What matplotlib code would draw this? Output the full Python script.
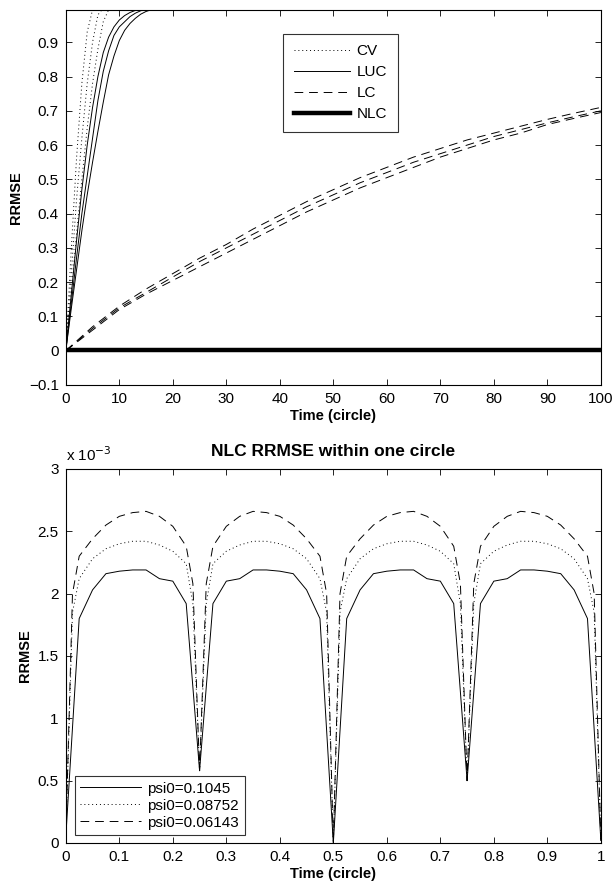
import matplotlib
matplotlib.use('Agg')
import matplotlib.pyplot as plt

plt.rcParams['font.family'] = ['Liberation Sans', 'DejaVu Sans']

# ---- top panel: RRMSE over 100 circles ----
t_early = list(range(0, 21)) + [100]

cv_1 = [0, 0.29, 0.56, 0.78, 0.93, 0.995, 1.0, 1.0, 1.0, 1.0, 1.0,
        1.0, 1.0, 1.0, 1.0, 1.0, 1.0, 1.0, 1.0, 1.0, 1.0, 1.0]
cv_2 = [0, 0.22, 0.44, 0.62, 0.78, 0.90, 0.98, 1.0, 1.0, 1.0, 1.0,
        1.0, 1.0, 1.0, 1.0, 1.0, 1.0, 1.0, 1.0, 1.0, 1.0, 1.0]
cv_3 = [0, 0.17, 0.34, 0.50, 0.65, 0.78, 0.88, 0.96, 0.995, 1.0, 1.0,
        1.0, 1.0, 1.0, 1.0, 1.0, 1.0, 1.0, 1.0, 1.0, 1.0, 1.0]

luc_1 = [0, 0.16, 0.32, 0.47, 0.60, 0.71, 0.80, 0.87, 0.915, 0.945, 0.965,
         0.978, 0.987, 0.993, 0.997, 0.999, 1.0, 1.0, 1.0, 1.0, 1.0, 1.0]
luc_2 = [0, 0.135, 0.27, 0.40, 0.51, 0.62, 0.73, 0.815, 0.875, 0.92, 0.945,
         0.96, 0.975, 0.985, 0.992, 0.996, 0.998, 1.0, 1.0, 1.0, 1.0, 1.0]
luc_3 = [0, 0.12, 0.235, 0.35, 0.455, 0.55, 0.64, 0.725, 0.805, 0.86, 0.905,
         0.935, 0.955, 0.97, 0.982, 0.99, 0.995, 0.998, 1.0, 1.0, 1.0, 1.0]

t_lc = list(range(0, 101, 5))
lc_1 = [0, 0.07, 0.13, 0.18, 0.225, 0.27, 0.31, 0.355, 0.395, 0.435, 0.47,
        0.505, 0.535, 0.565, 0.59, 0.615, 0.635, 0.655, 0.675, 0.693, 0.71]
lc_2 = [0, 0.065, 0.125, 0.17, 0.215, 0.26, 0.30, 0.34, 0.38, 0.42, 0.455,
        0.49, 0.52, 0.55, 0.575, 0.60, 0.625, 0.645, 0.665, 0.683, 0.70]
lc_3 = [0, 0.06, 0.12, 0.165, 0.205, 0.245, 0.285, 0.325, 0.365, 0.405, 0.44,
        0.475, 0.505, 0.535, 0.565, 0.59, 0.615, 0.635, 0.66, 0.678, 0.695]

t_nlc = [0, 25, 50, 75, 100]
nlc = [0.002, 0.002, 0.002, 0.002, 0.002]

# ---- bottom panel: NLC RRMSE within one circle (x 1e-3) ----
s = [0, 0.025, 0.05, 0.075, 0.1, 0.125, 0.15, 0.175, 0.2, 0.225,
     0.25, 0.275, 0.3, 0.325, 0.35, 0.375, 0.4, 0.425, 0.45, 0.475,
     0.5, 0.525, 0.55, 0.575, 0.6, 0.625, 0.65, 0.675, 0.7, 0.725,
     0.75, 0.775, 0.8, 0.825, 0.85, 0.875, 0.9, 0.925, 0.95, 0.975, 1.0]
psi_a = [0.05, 1.80, 2.03, 2.16, 2.18, 2.19, 2.19, 2.12, 2.10, 1.92,
         0.58, 1.92, 2.10, 2.12, 2.19, 2.19, 2.18, 2.16, 2.03, 1.80,
         0.0, 1.80, 2.03, 2.16, 2.18, 2.19, 2.19, 2.12, 2.10, 1.92,
         0.50, 1.92, 2.10, 2.12, 2.19, 2.19, 2.18, 2.16, 2.03, 1.80, 0.02]

s_fine = [0, 0.0125, 0.025, 0.05, 0.075, 0.1, 0.125, 0.15, 0.175, 0.2, 0.225, 0.2375,
          0.25, 0.2625, 0.275, 0.3, 0.325, 0.35, 0.375, 0.4, 0.425, 0.45, 0.475, 0.4875,
          0.5, 0.5125, 0.525, 0.55, 0.575, 0.6, 0.625, 0.65, 0.675, 0.7, 0.725, 0.7375,
          0.75, 0.7625, 0.775, 0.8, 0.825, 0.85, 0.875, 0.9, 0.925, 0.95, 0.975, 0.9875,
          1.0]
psi_b = [0.05, 1.85, 2.12, 2.28, 2.36, 2.40, 2.42, 2.42, 2.39, 2.34, 2.24, 1.92,
         0.58, 1.92, 2.24, 2.34, 2.39, 2.42, 2.42, 2.40, 2.36, 2.28, 2.12, 1.85,
         0.0, 1.85, 2.12, 2.28, 2.36, 2.40, 2.42, 2.42, 2.39, 2.34, 2.24, 1.92,
         0.50, 1.92, 2.24, 2.34, 2.39, 2.42, 2.42, 2.40, 2.36, 2.28, 2.12, 1.85,
         0.02]
psi_c = [0.05, 2.00, 2.30, 2.44, 2.55, 2.62, 2.65, 2.66, 2.62, 2.54, 2.38, 2.08,
         0.58, 2.08, 2.38, 2.54, 2.62, 2.66, 2.65, 2.62, 2.55, 2.44, 2.30, 2.00,
         0.0, 2.00, 2.30, 2.44, 2.55, 2.62, 2.65, 2.66, 2.62, 2.54, 2.38, 2.08,
         0.50, 2.08, 2.38, 2.54, 2.62, 2.66, 2.65, 2.62, 2.55, 2.44, 2.30, 2.00,
         0.02]
psi_labels = ['psi0=0.1045', 'psi0=0.08752', 'psi0=0.06143']

DOT = (0, (1, 3))
DASH = (0, (9, 6))
LW = 0.7


def style_axes(ax):
    ax.tick_params(direction='in', top=True, right=True, length=4,
                   width=0.6, labelsize=11, pad=5)
    for sp in ax.spines.values():
        sp.set_linewidth(0.8)


fig = plt.figure(figsize=(6.15, 8.85), dpi=100)

# top
ax1 = fig.add_axes([0.107, 0.565, 0.870, 0.424])
for y in (cv_1, cv_2, cv_3):
    ax1.plot(t_early, y, color='black', linestyle=DOT, linewidth=LW)
for y in (luc_1, luc_2, luc_3):
    ax1.plot(t_early, y, color='black', linestyle='-', linewidth=LW)
for y in (lc_1, lc_2, lc_3):
    ax1.plot(t_lc, y, color='black', linestyle=DASH, linewidth=LW)
ax1.plot(t_nlc, nlc, color='black', linestyle='-', linewidth=3.2)

h_cv, = ax1.plot([], [], color='black', linestyle=DOT, linewidth=LW, label='CV')
h_luc, = ax1.plot([], [], color='black', linestyle='-', linewidth=LW, label='LUC')
h_lc, = ax1.plot([], [], color='black', linestyle=DASH, linewidth=LW, label='LC')
h_nlc, = ax1.plot([], [], color='black', linestyle='-', linewidth=3.2, label='NLC')
leg1 = ax1.legend(handles=[h_cv, h_luc, h_lc, h_nlc], loc='upper left',
                  bbox_to_anchor=(0.406, 0.936), borderaxespad=0, fontsize=11,
                  frameon=True, fancybox=False, edgecolor='black',
                  handlelength=3.7, handletextpad=0.4, labelspacing=0.45,
                  borderpad=0.7)
leg1.get_frame().set_linewidth(0.8)

ax1.set_xlim(0, 100)
ax1.set_ylim(-0.1, 0.995)
ax1.set_xticks(range(0, 101, 10))
ax1.set_yticks([-0.1, 0, 0.1, 0.2, 0.3, 0.4, 0.5, 0.6, 0.7, 0.8, 0.9])
ax1.set_yticklabels(['\u22120.1', '0', '0.1', '0.2', '0.3', '0.4', '0.5',
                     '0.6', '0.7', '0.8', '0.9'])
ax1.set_xlabel('Time (circle)', fontsize=10.5, fontweight='bold', labelpad=2)
ax1.set_ylabel('RRMSE', fontsize=10.5, fontweight='bold', labelpad=4)
style_axes(ax1)

# bottom
ax2 = fig.add_axes([0.107, 0.0475, 0.870, 0.4226])
ax2.plot(s, psi_a, color='black', linestyle='-', linewidth=LW, label=psi_labels[0])
ax2.plot(s_fine, psi_b, color='black', linestyle=DOT, linewidth=LW, label=psi_labels[1])
ax2.plot(s_fine, psi_c, color='black', linestyle=DASH, linewidth=LW, label=psi_labels[2])
leg2 = ax2.legend(loc='lower left', bbox_to_anchor=(0.017, 0.021), borderaxespad=0,
                  fontsize=11, frameon=True, fancybox=False, edgecolor='black',
                  handlelength=4.0, handletextpad=0.4, labelspacing=0.2,
                  borderpad=0.35)
leg2.get_frame().set_linewidth(0.8)

ax2.set_xlim(0, 1)
ax2.set_ylim(0, 3)
ax2.set_xticks([0, 0.1, 0.2, 0.3, 0.4, 0.5, 0.6, 0.7, 0.8, 0.9, 1])
ax2.set_xticklabels(['0', '0.1', '0.2', '0.3', '0.4', '0.5', '0.6', '0.7',
                     '0.8', '0.9', '1'])
ax2.set_yticks([0, 0.5, 1, 1.5, 2, 2.5, 3])
ax2.set_yticklabels(['0', '0.5', '1', '1.5', '2', '2.5', '3'])
ax2.set_xlabel('Time (circle)', fontsize=10.5, fontweight='bold', labelpad=2)
ax2.set_ylabel('RRMSE', fontsize=10.5, fontweight='bold', labelpad=4)
ax2.set_title('NLC RRMSE within one circle', fontsize=12.5, fontweight='bold', pad=9)
ax2.text(0.0, 1.012, 'x 10$^{-3}$', transform=ax2.transAxes, ha='left',
         va='bottom', fontsize=11)
style_axes(ax2)

fig.savefig('out.png', dpi=100)
